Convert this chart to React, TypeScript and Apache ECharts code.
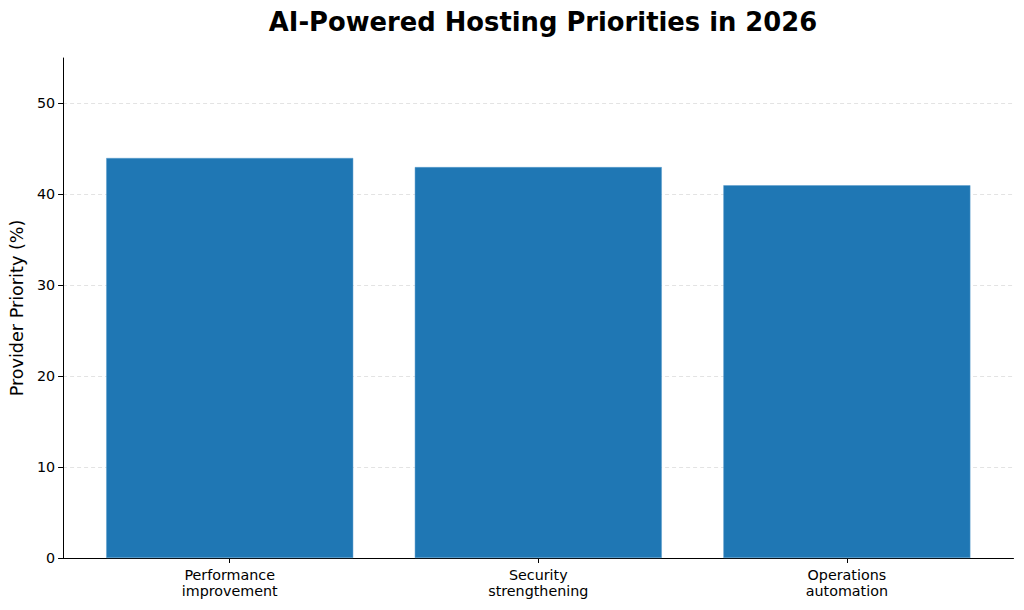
import { useEffect, useRef } from 'react'
import * as echarts from 'echarts'

const categories = ['Performance\nimprovement', 'Security\nstrengthening', 'Operations\nautomation']
const priorities = [44, 43, 41]
const yTicks = [0, 10, 20, 30, 40, 50]
const xPositions = [0, 1, 2]

const FONT = '"DejaVu Sans", sans-serif'

export default function App() {
  const chartRef = useRef<HTMLDivElement>(null)

  useEffect(() => {
    if (!chartRef.current) return
    const chart = echarts.init(chartRef.current, null, { renderer: 'svg' })

    chart.setOption({
      animation: false,
      backgroundColor: '#ffffff',
      title: {
        text: 'AI-Powered Hosting Priorities in 2026',
        left: 538,
        top: 4,
        textAlign: 'center',
        textStyle: { fontFamily: FONT, fontSize: 25.8, fontWeight: 'bold', color: '#000' },
      },
      grid: { left: 61, right: 10.5, top: 58, bottom: 52 },
      xAxis: {
        type: 'value',
        min: -0.54,
        max: 2.54,
        splitLine: { show: false },
        axisLine: { show: true, onZero: false, lineStyle: { color: '#000', width: 1 } },
        axisTick: {
          show: true,
          customValues: xPositions,
          length: 5,
          lineStyle: { color: '#000', width: 1 },
        },
        axisLabel: {
          customValues: xPositions,
          formatter: (v: number) => categories[Math.round(v)] ?? '',
          fontFamily: FONT,
          fontSize: 14.3,
          lineHeight: 16,
          color: '#000',
          margin: 9,
        },
      },
      yAxis: {
        type: 'value',
        min: 0,
        max: 55,
        interval: 10,
        name: 'Provider Priority (%)',
        nameLocation: 'middle',
        nameGap: 36,
        nameTextStyle: { fontFamily: FONT, fontSize: 17.6, color: '#000' },
        axisLine: { show: true, onZero: false, lineStyle: { color: '#000', width: 1 } },
        axisTick: {
          show: true,
          customValues: yTicks,
          length: 5,
          lineStyle: { color: '#000', width: 1 },
        },
        axisLabel: {
          customValues: yTicks,
          fontFamily: FONT,
          fontSize: 14.3,
          color: '#000',
          margin: 8,
        },
        splitLine: {
          show: true,
          showMinLine: false,
          showMaxLine: true,
          lineStyle: { color: '#e3e3e3', width: 1, type: [4, 3] },
        },
      },
      series: [
        {
          type: 'bar',
          data: xPositions.map((x, i) => [x, priorities[i]]),
          barWidth: 247,
          itemStyle: { color: '#1f77b4', borderColor: '#5a9ccc', borderWidth: 0.5 },
          z: 3,
        },
      ],
    })

    return () => {
      chart.dispose()
    }
  }, [])

  return (
    <div
      ref={chartRef}
      style={{ position: 'fixed', left: 0, top: 0, width: '1024px', height: '610px' }}
    />
  )
}
